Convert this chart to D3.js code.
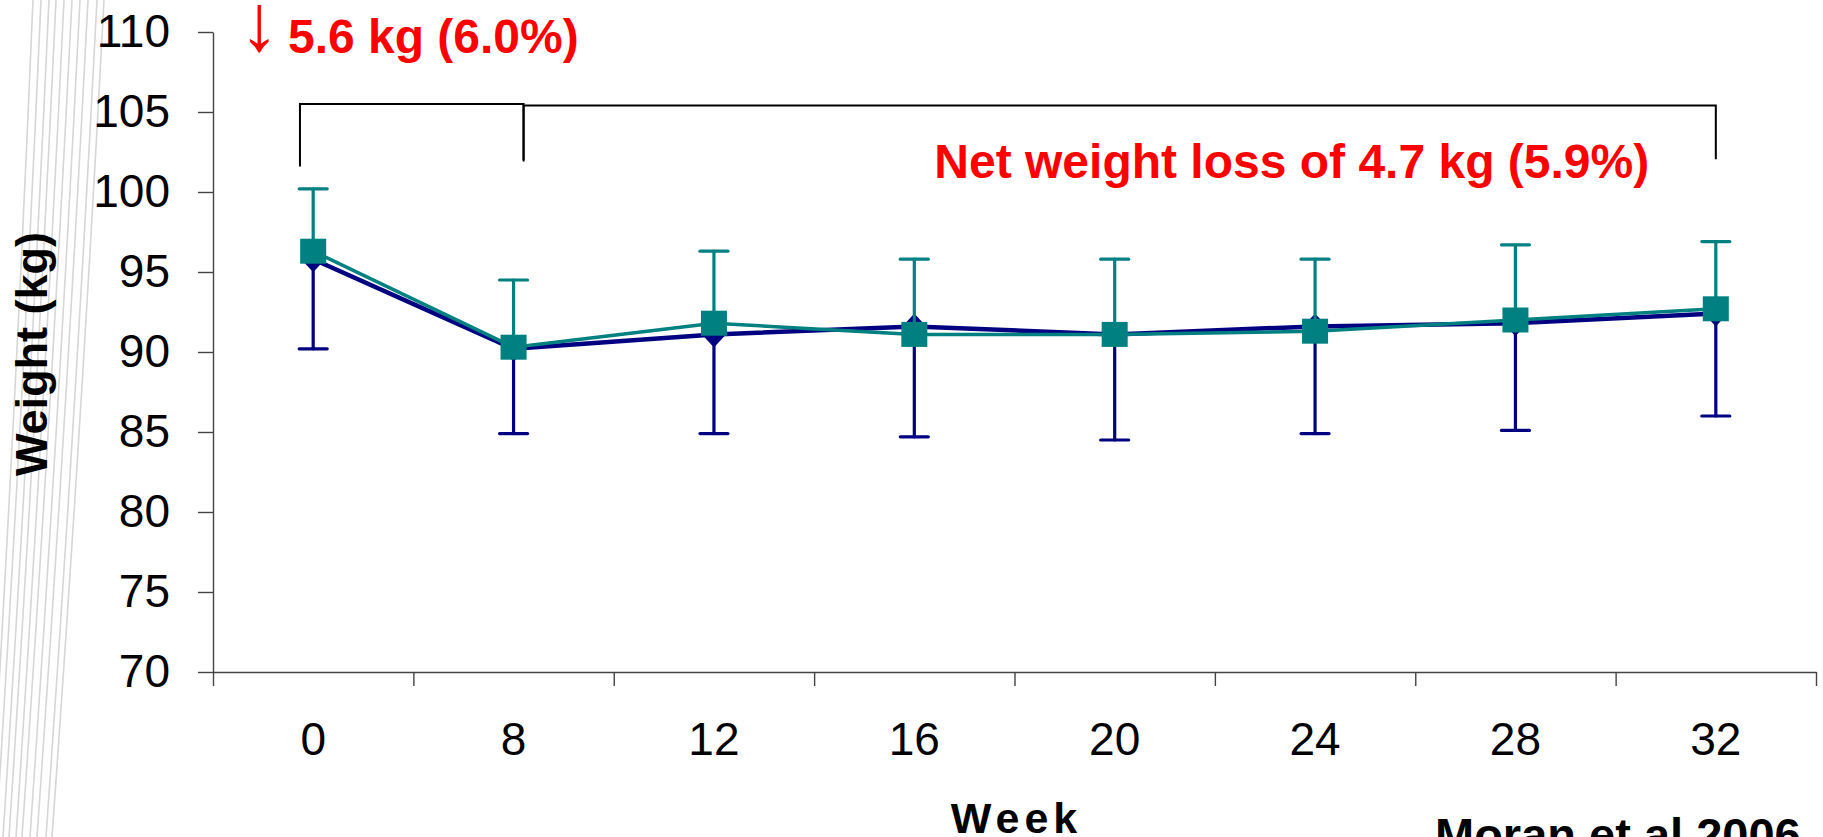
<!DOCTYPE html>
<html>
<head>
<meta charset="utf-8">
<script src="https://cdn.jsdelivr.net/npm/d3@7"></script>
<style>
  html, body { margin: 0; padding: 0; background: #ffffff; overflow: hidden; }
  svg { display: block; }
  text { font-family: "Liberation Sans", Arial, Helvetica, sans-serif; }
</style>
</head>
<body>
<div id="chart"></div>
<script>
// Week of assessment (x categories)
const weeks = ["0", "8", "12", "16", "20", "24", "28", "32"];

// Group A (navy diamonds): mean weight and lower error bound, kg
const meanA  = [95.8, 90.2, 91.1, 91.6, 91.1, 91.6, 91.8, 92.4];
const lowerA = [90.2, 84.9, 84.9, 84.7, 84.5, 84.9, 85.1, 86.0];

// Group B (teal squares): mean weight and upper error bound, kg
const meanB  = [96.3, 90.3, 91.8, 91.1, 91.1, 91.3, 92.0, 92.7];
const upperB = [100.2, 94.5, 96.3, 95.8, 95.8, 95.8, 96.7, 96.9];

// Y axis ticks
const yTicks = [70, 75, 80, 85, 90, 95, 100, 105, 110];

// Bracket annotations: positions in week-slot units and kg
const brackets = [
  { from: -0.066, to: 1.05, top: 105.5, legFrom: 101.6, legTo: 101.9 },
  { from: 1.05,  to: 7.0,  top: 105.4, legFrom: 102.0, legTo: 102.05 }
];

const W = 1823, H = 837;
const colA = "#000080", colB = "#008080";

const svg = d3.select("#chart").append("svg")
  .attr("width", W).attr("height", H)
  .style("background", "#fff");

// faint diagonal rules along the left edge of the slide
const ruleTop = [33, 41, 49, 56, 64, 72, 80, 88, 97, 104];
const ruleBottom = [-10, -4, 3, 9, 16, 22, 30, 37, 46, 52];
svg.append("g").selectAll("path").data(ruleTop).join("path")
  .attr("d", (d, i) => {
    const xb = ruleBottom[i];
    return `M${d},0 Q${(d + xb) / 2 + 4},${H / 2} ${xb},${H}`;
  })
  .attr("fill", "none").attr("stroke", "#d6d6d6").attr("stroke-width", 1.6);

const x = d3.scaleBand().domain(weeks).range([213, 1816]).paddingInner(0).paddingOuter(0);
const slot = d3.scaleLinear().domain([-0.5, weeks.length - 0.5]).range(x.range());
const y = d3.scaleLinear().domain([70, 110]).range([672, 32]);
const cx = i => x(weeks[i]) + x.bandwidth() / 2;

// Y axis
const yAxis = svg.append("g").attr("transform", `translate(${x.range()[0]},0)`)
  .call(d3.axisLeft(y).tickValues(yTicks).tickSize(15).tickPadding(28).tickSizeOuter(0));
yAxis.selectAll("text").attr("font-size", 46).attr("fill", "#000").attr("font-family", "Liberation Sans, Arial, sans-serif");
yAxis.selectAll("line,path").attr("stroke", "#444").attr("stroke-width", 1.4);

// X axis: labels centred in each week slot
const xAxis = svg.append("g").attr("transform", `translate(0,${y(70)})`)
  .call(d3.axisBottom(x).tickSize(0).tickPadding(50).tickSizeOuter(0));
xAxis.selectAll("text").attr("font-size", 46).attr("fill", "#000").attr("font-family", "Liberation Sans, Arial, sans-serif");
xAxis.select(".domain").attr("stroke", "#444").attr("stroke-width", 1.4);

// X axis: tick marks on slot boundaries
const xBound = d3.scaleLinear().domain([0, weeks.length]).range(x.range());
const xTickG = svg.append("g").attr("transform", `translate(0,${y(70)})`)
  .call(d3.axisBottom(xBound).tickValues(d3.range(0, weeks.length + 1)).tickSize(14).tickFormat(""));
xTickG.select(".domain").remove();
xTickG.selectAll("line").attr("stroke", "#444").attr("stroke-width", 1.4);

// Group A
const line = d3.line().x((d, i) => cx(i)).y(d => y(d));
svg.append("path").datum(meanA).attr("d", line)
  .attr("fill", "none").attr("stroke", colA).attr("stroke-width", 4.5).attr("stroke-linejoin", "round");

const errA = svg.append("g").attr("stroke", colA).attr("stroke-width", 3.2).attr("stroke-linecap", "round");
errA.selectAll("line.v").data(meanA).join("line").attr("class", "v")
  .attr("x1", (d, i) => cx(i)).attr("x2", (d, i) => cx(i))
  .attr("y1", d => y(d)).attr("y2", (d, i) => y(lowerA[i]));
errA.selectAll("line.c").data(lowerA).join("line").attr("class", "c")
  .attr("x1", (d, i) => cx(i) - 14).attr("x2", (d, i) => cx(i) + 14)
  .attr("y1", d => y(d)).attr("y2", d => y(d));

svg.append("g").selectAll("path").data(meanA).join("path")
  .attr("d", (d, i) => {
    const px = cx(i), py = y(d), hw = 12, hh = 13;
    return `M${px},${py - hh}L${px + hw},${py}L${px},${py + hh}L${px - hw},${py}Z`;
  })
  .attr("fill", colA);

// Group B
svg.append("path").datum(meanB).attr("d", line)
  .attr("fill", "none").attr("stroke", colB).attr("stroke-width", 3.5).attr("stroke-linejoin", "round");

const errB = svg.append("g").attr("stroke", colB).attr("stroke-width", 3.2).attr("stroke-linecap", "round");
errB.selectAll("line.v").data(meanB).join("line").attr("class", "v")
  .attr("x1", (d, i) => cx(i)).attr("x2", (d, i) => cx(i))
  .attr("y1", d => y(d)).attr("y2", (d, i) => y(upperB[i]));
errB.selectAll("line.c").data(upperB).join("line").attr("class", "c")
  .attr("x1", (d, i) => cx(i) - 14).attr("x2", (d, i) => cx(i) + 14)
  .attr("y1", d => y(d)).attr("y2", d => y(d));

svg.append("g").selectAll("rect").data(meanB).join("rect")
  .attr("x", (d, i) => cx(i) - 13).attr("y", d => y(d) - 12.5)
  .attr("width", 26).attr("height", 25)
  .attr("fill", colB);

// Brackets marking the two phases
const br = svg.append("g").attr("fill", "none").attr("stroke", "#000").attr("stroke-width", 2);
br.selectAll("path").data(brackets).join("path")
  .attr("d", b => `M${slot(b.from)},${y(b.legFrom)}V${y(b.top)}H${slot(b.to)}V${y(b.legTo)}`);

// Annotations: drop over the first 8 weeks
svg.append("text")
  .attr("x", slot(-0.37)).attr("y", y(108.9))
  .attr("fill", "#ff0000").attr("font-size", 80).attr("font-weight", "normal")
  .text("\u2193");
svg.append("text")
  .attr("x", slot(-0.126)).attr("y", y(108.7))
  .attr("fill", "#ff0000").attr("font-size", 48).attr("font-weight", "bold")
  .text("5.6 kg (6.0%)");

svg.append("text")
  .attr("x", slot(3.1)).attr("y", y(100.9))
  .attr("fill", "#ff0000").attr("font-size", 48).attr("font-weight", "bold")
  .text("Net weight loss of 4.7 kg (5.9%)");

// Axis titles
svg.append("text")
  .attr("transform", `translate(47,${(y(110) + y(70)) / 2 + 2}) rotate(-90)`)
  .attr("text-anchor", "middle").attr("font-size", 45).attr("font-weight", "bold").attr("fill", "#000")
  .text("Weight (kg)");

svg.append("text")
  .attr("x", (x.range()[0] + x.range()[1]) / 2 + 2).attr("y", 833)
  .attr("text-anchor", "middle").attr("font-size", 43).attr("font-weight", "bold")
  .attr("letter-spacing", 5).attr("fill", "#000")
  .text("Week");

svg.append("text")
  .attr("x", 1435).attr("y", 851)
  .attr("font-size", 47).attr("font-weight", "bold").attr("fill", "#000")
  .text("Moran et al 2006");
</script>
</body>
</html>
